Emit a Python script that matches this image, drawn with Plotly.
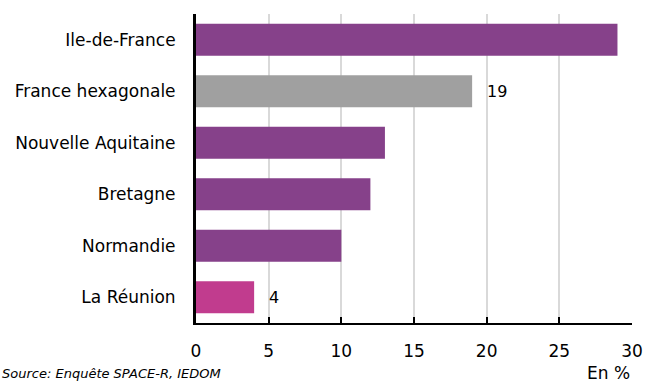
import plotly.graph_objects as go

categories = ["Ile-de-France", "France hexagonale", "Nouvelle Aquitaine", "Bretagne", "Normandie", "La Réunion"]
values = [29, 19, 13, 12, 10, 4]
colors = ["#86418a", "#a0a0a0", "#86418a", "#86418a", "#86418a", "#c13c8e"]
shown_labels = ["", "19", "", "", "", "4"]
x_ticks = [0, 5, 10, 15, 20, 25, 30]

FONT = "DejaVu Sans"
PW, PH = 436, 309

fig = go.Figure(go.Bar(
    y=categories, x=values, orientation="h",
    marker=dict(color=colors, line=dict(width=0)),
    width=0.62,
))

for c, v, t in zip(categories, values, shown_labels):
    if t:
        fig.add_annotation(x=v, y=c, text=t, showarrow=False, xanchor="left",
                           xshift=13, font=dict(family=FONT, size=16, color="#000"))

fig.add_annotation(x=-196 / PW, xref="paper", y=-50 / PH, yref="paper", yanchor="middle",
                   xanchor="left", text="<i>Source: Enquête SPACE-R, IEDOM</i>", showarrow=False,
                   font=dict(family=FONT, size=13))
fig.add_annotation(x=1, xref="paper", y=-50 / PH, yref="paper", yanchor="middle",
                   xanchor="right", text="En %", showarrow=False,
                   font=dict(family=FONT, size=17))

fig.update_layout(
    width=645, height=383,
    margin=dict(l=196, r=13, t=14, b=60, autoexpand=False),
    paper_bgcolor="white", plot_bgcolor="white",
    font=dict(family=FONT, size=17, color="#000"),
    showlegend=False,
    xaxis=dict(range=[0, 30], tickvals=x_ticks, showgrid=True, gridcolor="#d9d9d9", gridwidth=2,
               showline=True, linecolor="#000", linewidth=2, ticks="inside", ticklen=6,
               tickwidth=2, tickcolor="#000", zeroline=False, ticklabelstandoff=12,
               automargin=False, tickfont=dict(size=17)),
    yaxis=dict(autorange="reversed", showline=True, linecolor="#000", linewidth=3,
               ticks="", ticklabelstandoff=14, showgrid=False, zeroline=False,
               automargin=False, tickfont=dict(size=17)),
)

fig.write_html("out.html")
